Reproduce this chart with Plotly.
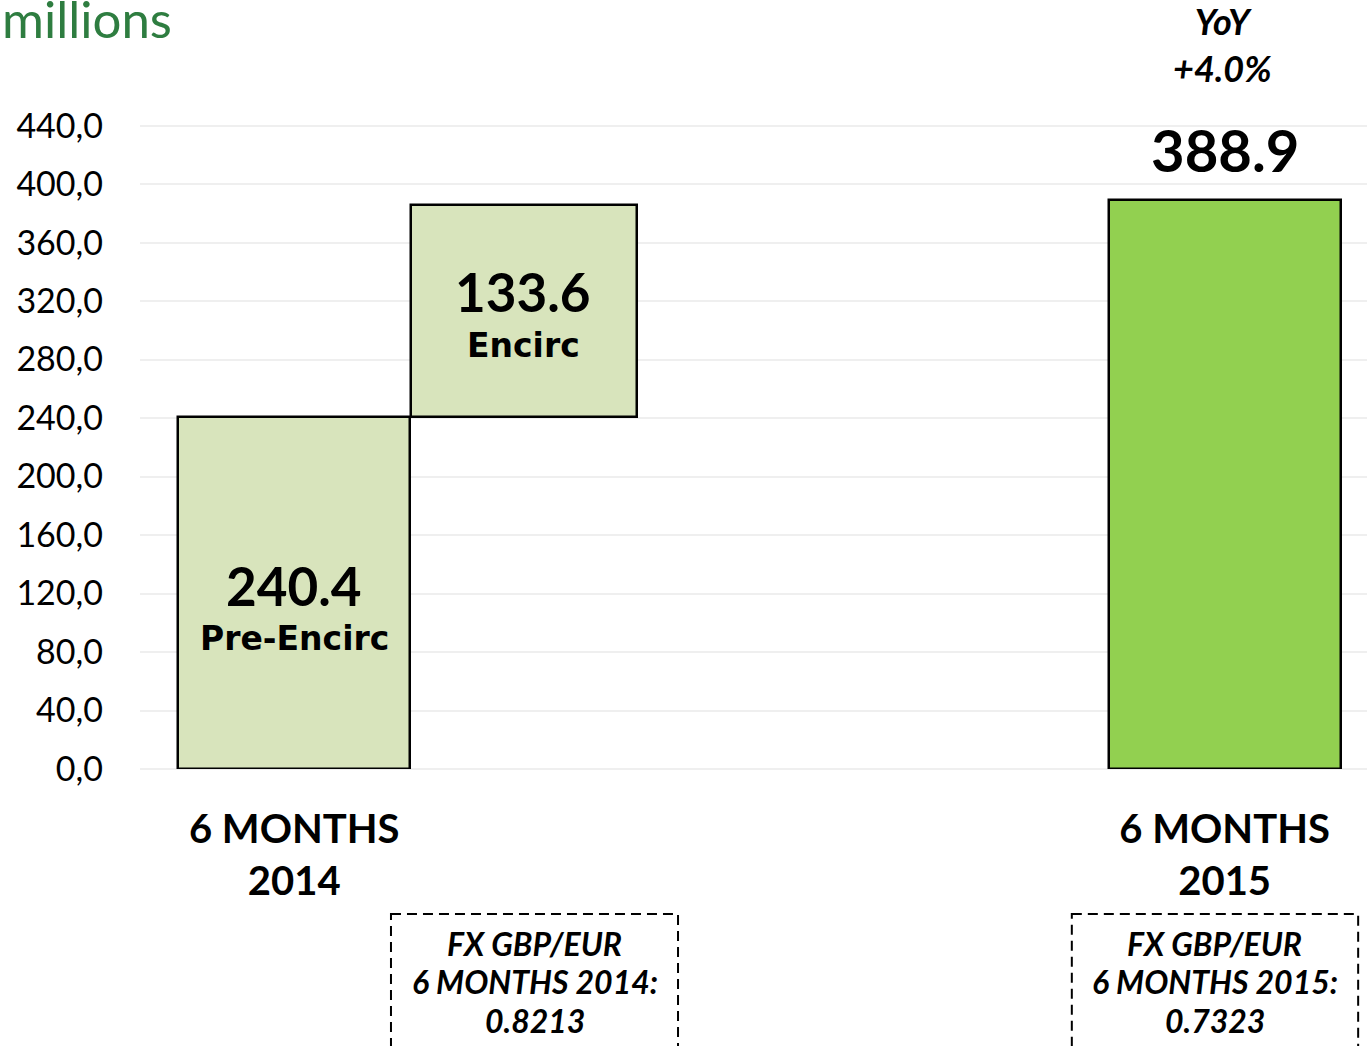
import plotly.graph_objects as go

# ---- data ----
bar_names = ["Pre-Encirc", "Encirc", "6 MONTHS 2015"]
bar_base = [0.0, 240.4, 0.0]
bar_values = [240.4, 145.0, 388.9]          # drawn heights
value_labels = ["240.4", "133.6", "388.9"]
sub_labels = ["Pre-Encirc", "Encirc", ""]
period_labels = ["6 MONTHS<br>2014", "6 MONTHS<br>2015"]
yoy_label = "YoY<br>+4.0%"
fx_lines_2014 = ["FX GBP/EUR", "6 MONTHS 2014:", "0.8213"]
fx_lines_2015 = ["FX GBP/EUR", "6 MONTHS 2015:", "0.7323"]
y_ticks = [0, 40, 80, 120, 160, 200, 240, 280, 320, 360, 400, 440]

# ---- layout constants ----
W, H = 1367, 1046
ML, MR, MT, MB = 140, 0, 111, 277
PW, PH = W - ML - MR, H - MT - MB
FONT = "Lato"
WIDE = "DejaVu Sans"
bar_x = [0, 1, 4]
bar_w = [0.996, 0.972, 0.998]
bar_off = [-0.498, -0.5, -0.499]
colors = ["#d8e4bc", "#d8e4bc", "#92d050"]


def py(p):
    return (H - MB - p) / PH


fig = go.Figure()
fig.add_trace(go.Bar(
    x=bar_x, y=bar_values, base=bar_base, width=bar_w, offset=bar_off,
    marker=dict(color=colors, line=dict(color="#000000", width=2.5)),
    hoverinfo="skip", showlegend=False,
))

ann = []
# labels inside the stacked bars
ann.append(dict(x=bar_x[0], y=bar_base[0] + bar_values[0] / 2 + 5, text="<b>" + value_labels[0] + "</b>",
                font=dict(size=53, color="#000"), showarrow=False))
ann.append(dict(x=bar_x[0], y=bar_base[0] + bar_values[0] / 2 - 31, text="<b>" + sub_labels[0] + "</b>",
                font=dict(size=33, color="#000", family=WIDE), showarrow=False))
ann.append(dict(x=bar_x[1] - 0.016, y=bar_base[1] + bar_values[1] / 2 + 14, text="<b>" + value_labels[1] + "</b>",
                font=dict(size=53, color="#000"), showarrow=False))
ann.append(dict(x=bar_x[1] - 0.016, y=bar_base[1] + bar_values[1] / 2 - 23, text="<b>" + sub_labels[1] + "</b>",
                font=dict(size=33, color="#000", family=WIDE), showarrow=False))
ann.append(dict(x=bar_x[2], y=bar_values[2] + 35, text="<b>" + value_labels[2] + "</b>",
                font=dict(size=58, color="#000"), showarrow=False))
ann.append(dict(x=bar_x[2] - 0.01, y=py(45), yref="paper", yanchor="middle", text=yoy_label,
                font=dict(size=36, color="#000", style="italic", weight="bold"), showarrow=False))
# FX boxes
fx_x = [1.033, 3.958]
line_y = [943, 981, 1020]
for fx, lines in zip(fx_x, [fx_lines_2014, fx_lines_2015]):
    for t, ly in zip(lines, line_y):
        ann.append(dict(x=fx, xref="x", y=py(ly), yref="paper", text=t,
                        font=dict(size=32, color="#000", style="italic", weight="bold"),
                        showarrow=False, yanchor="middle"))
# units label
ann.append(dict(x=-ML / PW, xref="paper", xanchor="left", xshift=0, y=1 + MT / PH, yref="paper", yanchor="top",
                yshift=14, text="millions", font=dict(size=51, color="#2e7d40", family=FONT), showarrow=False))

for a in ann:
    a.setdefault("xref", "x")
    a.setdefault("yref", "y")

shapes = []
for x0, x1 in [(0.416, 1.650), (3.343, 4.574)]:
    shapes.append(dict(type="rect", xref="x", yref="paper", x0=x0, x1=x1, y0=py(914), y1=py(1070),
                       line=dict(color="#000", width=2, dash="10px,6px"), fillcolor="rgba(0,0,0,0)"))

fig.update_layout(
    width=W, height=H,
    margin=dict(l=ML, r=MR, t=MT, b=MB, pad=0),
    plot_bgcolor="white", paper_bgcolor="white",
    font=dict(family=FONT, color="#000"),
    separators=",.",
    annotations=ann, shapes=shapes,
    bargap=0,
)
fig.update_xaxes(
    range=[-0.663, 4.612], tickmode="array", tickvals=[bar_x[0], bar_x[2]], ticktext=period_labels,
    tickfont=dict(size=40, color="#000", weight="bold"), showgrid=False, zeroline=False,
    showline=False, ticks="", ticklabelstandoff=33,
)
fig.update_yaxes(
    range=[0, 450], tickmode="array", tickvals=y_ticks, tickformat=".1f",
    tickfont=dict(size=34, color="#000"), showgrid=True, gridcolor="#efefef", gridwidth=2,
    zeroline=True, zerolinecolor="#efefef", zerolinewidth=2, showline=False, ticks="",
    ticklabelstandoff=36,
)

fig.write_html("out.html", config={"displayModeBar": False},
               post_script="document.body.style.margin='0';")
